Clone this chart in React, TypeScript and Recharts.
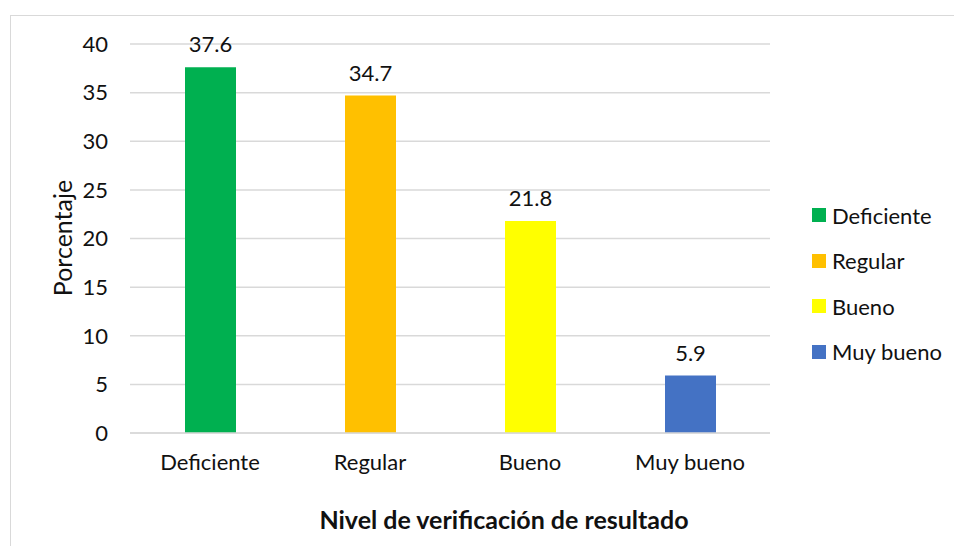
import React from 'react';
import { BarChart, Bar, XAxis, YAxis, CartesianGrid, Cell, LabelList } from 'recharts';

const categories = ['Deficiente', 'Regular', 'Bueno', 'Muy bueno'];
const values = [37.6, 34.7, 21.8, 5.9];
const colors = ['#00b050', '#ffc000', '#ffff00', '#4472c4'];
const yTicks = [0, 5, 10, 15, 20, 25, 30, 35, 40];

const data = categories.map((name, i) => ({ name, value: values[i] }));

const font = 'Lato, "Noto Sans", sans-serif';
const textColor = '#111';

export default function App() {
  return (
    <div style={{ position: 'absolute', left: 0, top: 0, width: 954, height: 546, background: '#fff', fontFamily: font, overflow: 'hidden' }}>
      <div style={{ position: 'absolute', left: 10, top: 15, width: 1000, height: 600, border: '1px solid #d9d9d9' }} />
      <BarChart
        width={954}
        height={546}
        data={data}
        margin={{ top: 44, right: 184, bottom: 83, left: 70 }}
        style={{ position: 'absolute', left: 0, top: 0 }}
      >
        <CartesianGrid vertical={false} stroke="#d9d9d9" strokeWidth={1.5} />
        <XAxis
          dataKey="name"
          height={30}
          tickLine={false}
          tickSize={0}
          tickMargin={21}
          axisLine={{ stroke: '#d9d9d9', strokeWidth: 1.5 }}
          tick={{ fill: textColor, fontSize: 22, fontFamily: font }}
        />
        <YAxis
          width={60}
          domain={[0, 40]}
          ticks={yTicks}
          interval={0}
          tickLine={false}
          tickSize={0}
          tickMargin={22}
          axisLine={false}
          tick={{ fill: textColor, fontSize: 22, fontFamily: font }}
        />
        <Bar dataKey="value" barSize={51} isAnimationActive={false}>
          {data.map((d, i) => (
            <Cell key={d.name} fill={colors[i]} />
          ))}
          <LabelList dataKey="value" position="top" offset={15} fill={textColor} fontSize={22} fontFamily={font} />
        </Bar>
      </BarChart>
      <div
        style={{
          position: 'absolute',
          left: 62,
          top: 238,
          transform: 'translate(-50%, -50%) rotate(-90deg)',
          fontSize: 25,
          color: textColor,
          whiteSpace: 'nowrap',
        }}
      >
        Porcentaje
      </div>
      <div
        style={{
          position: 'absolute',
          left: 504,
          top: 519,
          transform: 'translate(-50%, -50%)',
          fontSize: 25,
          fontWeight: 700,
          color: textColor,
          whiteSpace: 'nowrap',
        }}
      >
        Nivel de verificación de resultado
      </div>
      <div style={{ position: 'absolute', left: 812, top: 202 }}>
        {categories.map((c, i) => (
          <div key={c} style={{ display: 'flex', alignItems: 'center', height: 26, marginBottom: 19.5 }}>
            <div style={{ width: 14, height: 14, background: colors[i], marginRight: 6 }} />
            <span style={{ fontSize: 22, color: textColor, whiteSpace: 'nowrap' }}>{c}</span>
          </div>
        ))}
      </div>
    </div>
  );
}
